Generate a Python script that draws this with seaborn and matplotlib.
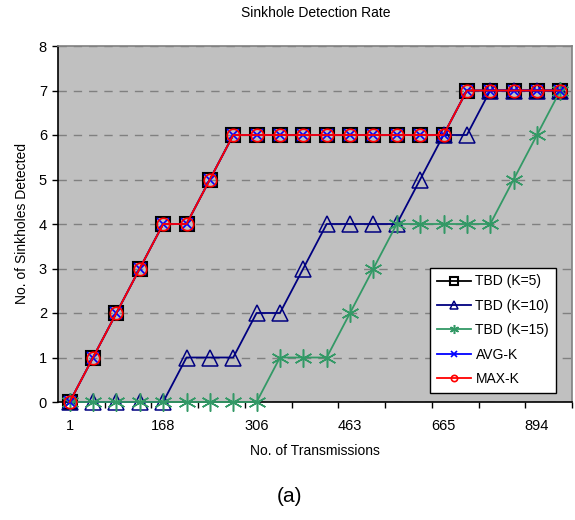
import numpy as np
import pandas as pd
import matplotlib
matplotlib.use("Agg")
import matplotlib.pyplot as plt
import seaborn as sns

# ---- data ----
categories = list(range(22))                       # category slots on the x axis
tick_positions = [0, 4, 8, 12, 16, 20]
tick_labels = ["1", "168", "306", "463", "665", "894"]

tbd_k5 = [0, 1, 2, 3, 4, 4, 5, 6, 6, 6, 6, 6, 6, 6, 6, 6, 6, 7, 7, 7, 7, 7]
tbd_k10 = [0, 0, 0, 0, 0, 1, 1, 1, 2, 2, 3, 4, 4, 4, 4, 5, 6, 6, 7, 7, 7, 7]
tbd_k15 = [0, 0, 0, 0, 0, 0, 0, 0, 0, 1, 1, 1, 2, 3, 4, 4, 4, 4, 4, 5, 6, 7]
avg_k = [0, 1, 2, 3, 4, 4, 5, 6, 6, 6, 6, 6, 6, 6, 6, 6, 6, 7, 7, 7, 7, 7]
max_k = [0, 1, 2, 3, 4, 4, 5, 6, 6, 6, 6, 6, 6, 6, 6, 6, 6, 7, 7, 7, 7, 7]

series_names = ["TBD (K=5)", "TBD (K=10)", "TBD (K=15)", "AVG-K", "MAX-K"]
series_values = [tbd_k5, tbd_k10, tbd_k15, avg_k, max_k]

df = pd.concat([pd.DataFrame({"cat": categories, "val": v, "series": n})
                for n, v in zip(series_names, series_values)], ignore_index=True)

styles = {
    "TBD (K=5)": dict(color="black", marker="s", ms=10.5, mec="black", mew=1.5),
    "TBD (K=10)": dict(color="#000080", marker="^", ms=11.5, mec="#000080", mew=1.1),
    "TBD (K=15)": dict(color="#339966", marker=(6, 2, 0), ms=13, mec="#339966", mew=1.1),
    "AVG-K": dict(color="#0000FF", marker="x", ms=8, mec="#0000FF", mew=1.2),
    "MAX-K": dict(color="#FF0000", marker="o", ms=9, mec="#FF0000", mew=1.2),
}

plt.rcParams["font.family"] = ["Liberation Sans", "DejaVu Sans"]

fig = plt.figure(figsize=(5.75, 5.2), dpi=100)
ax = fig.add_axes([58 / 575, 1 - 402 / 520, 514 / 575, 356 / 520])
ax.set_facecolor("#C0C0C0")

for name in series_names:
    st = styles[name]
    sns.lineplot(data=df[df["series"] == name], x="cat", y="val", ax=ax,
                 color=st["color"], marker=st["marker"], markersize=st["ms"],
                 markerfacecolor="none", markeredgecolor=st["mec"],
                 markeredgewidth=st["mew"], linewidth=1.3, label=name,
                 clip_on=False, zorder=3)

ax.set_xlim(-0.5, 21.5)
ax.set_ylim(0, 8)
ax.set_yticks(range(0, 9))
ax.set_xticks(tick_positions)
ax.set_xticklabels(tick_labels)
ax.set_xticks(np.arange(1.5, 22, 2), minor=True)
ax.tick_params(axis="x", which="major", length=0, pad=12, labelsize=10.5)
ax.tick_params(axis="x", which="minor", length=4, direction="out", width=1, color="black")
ax.tick_params(axis="y", length=4, direction="out", width=1, pad=4, labelsize=10.5)

ax.grid(axis="y", linestyle=(0, (6, 5)), color="#808080", linewidth=1, zorder=1)
ax.set_axisbelow(True)
for side in ["top", "right"]:
    ax.spines[side].set_color("#808080")
    ax.spines[side].set_linewidth(1.2)
for side in ["left", "bottom"]:
    ax.spines[side].set_color("black")
    ax.spines[side].set_linewidth(1.2)

ax.set_xlabel("No. of Transmissions", fontsize=10, labelpad=8)
ax.set_ylabel("No. of Sinkholes Detected", fontsize=10, labelpad=7)
fig.text(316 / 575, 1 - 13 / 520, "Sinkhole Detection Rate", ha="center", va="center", fontsize=10)
fig.text(290 / 575, 1 - 497 / 520, "(a)", ha="center", va="center", fontsize=15)

leg = ax.legend(loc="lower right", bbox_to_anchor=(0.969, 0.025), borderaxespad=0,
                frameon=True, fancybox=False, edgecolor="black", facecolor="white",
                framealpha=1, fontsize=10, markerscale=0.5, handlelength=2.5,
                labelspacing=0.75, borderpad=0.5, handletextpad=0.3)
leg.get_frame().set_linewidth(1.0)

fig.savefig("out.png", dpi=100, facecolor="white")
